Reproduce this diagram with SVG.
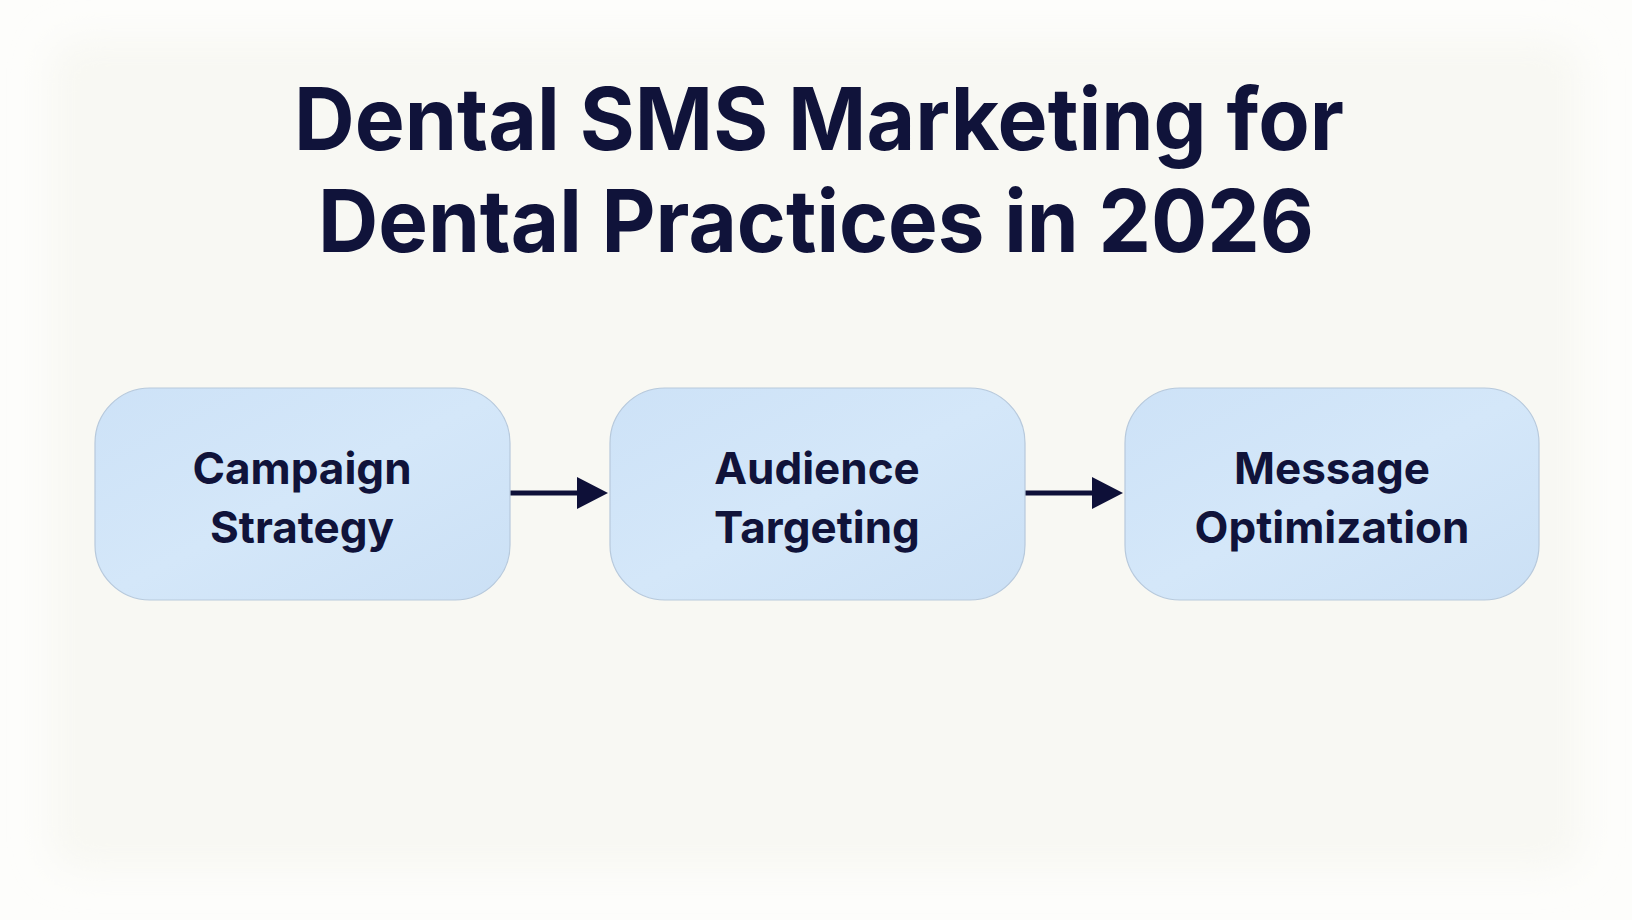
<svg xmlns="http://www.w3.org/2000/svg" width="1632" height="920" viewBox="0 0 1632 920">
  <defs>
    <filter id="soft" x="-10%" y="-10%" width="120%" height="120%">
      <feGaussianBlur stdDeviation="18"/>
    </filter>
    <linearGradient id="boxfill" x1="0" y1="0" x2="1" y2="1">
      <stop offset="0" stop-color="#cde2f7"/>
      <stop offset="0.5" stop-color="#d4e7f9"/>
      <stop offset="1" stop-color="#cbe0f5"/>
    </linearGradient>
    <marker id="arrowhead" markerUnits="userSpaceOnUse" markerWidth="32" markerHeight="34" refX="0" refY="16" orient="auto">
      <path d="M0,0 L31,16 L0,32 Z" fill="#0e1038"/>
    </marker>
    <style>
      .title { font-family: Inter, "Liberation Sans", sans-serif; font-weight: 700; font-size: 87px; fill: #10133a; text-anchor: middle; }
      .box { fill: url(#boxfill); stroke: #b7c9dc; stroke-width: 1.2; }
      .label { font-family: Inter, "Liberation Sans", sans-serif; font-weight: 700; font-size: 44px; fill: #10133a; text-anchor: middle; }
      .conn { stroke: #0e1038; stroke-width: 5; fill: none; }
    </style>
  </defs>

  <rect x="0" y="0" width="1632" height="920" fill="#fdfdfb"/>
  <rect x="50" y="40" width="1532" height="830" rx="30" fill="#f8f8f3" filter="url(#soft)"/>

  <g id="title">
    <text class="title" x="819" y="150" textLength="1050" lengthAdjust="spacingAndGlyphs">Dental SMS Marketing for</text>
    <text class="title" x="816" y="252" textLength="996" lengthAdjust="spacingAndGlyphs">Dental Practices in 2026</text>
  </g>

  <g id="connectors">
    <line class="conn" x1="510" y1="493" x2="577" y2="493" marker-end="url(#arrowhead)"/>
    <line class="conn" x1="1025" y1="493" x2="1092" y2="493" marker-end="url(#arrowhead)"/>
  </g>

  <g id="node-campaign-strategy">
    <rect class="box" x="95" y="388" width="415" height="212" rx="55" ry="55"/>
    <text class="label" x="302" y="484">Campaign</text>
    <text class="label" x="302" y="543">Strategy</text>
  </g>

  <g id="node-audience-targeting">
    <rect class="box" x="610" y="388" width="415" height="212" rx="55" ry="55"/>
    <text class="label" x="817" y="484">Audience</text>
    <text class="label" x="817" y="543">Targeting</text>
  </g>

  <g id="node-message-optimization">
    <rect class="box" x="1125" y="388" width="414" height="212" rx="55" ry="55"/>
    <text class="label" x="1332" y="484">Message</text>
    <text class="label" x="1332" y="543">Optimization</text>
  </g>
</svg>
